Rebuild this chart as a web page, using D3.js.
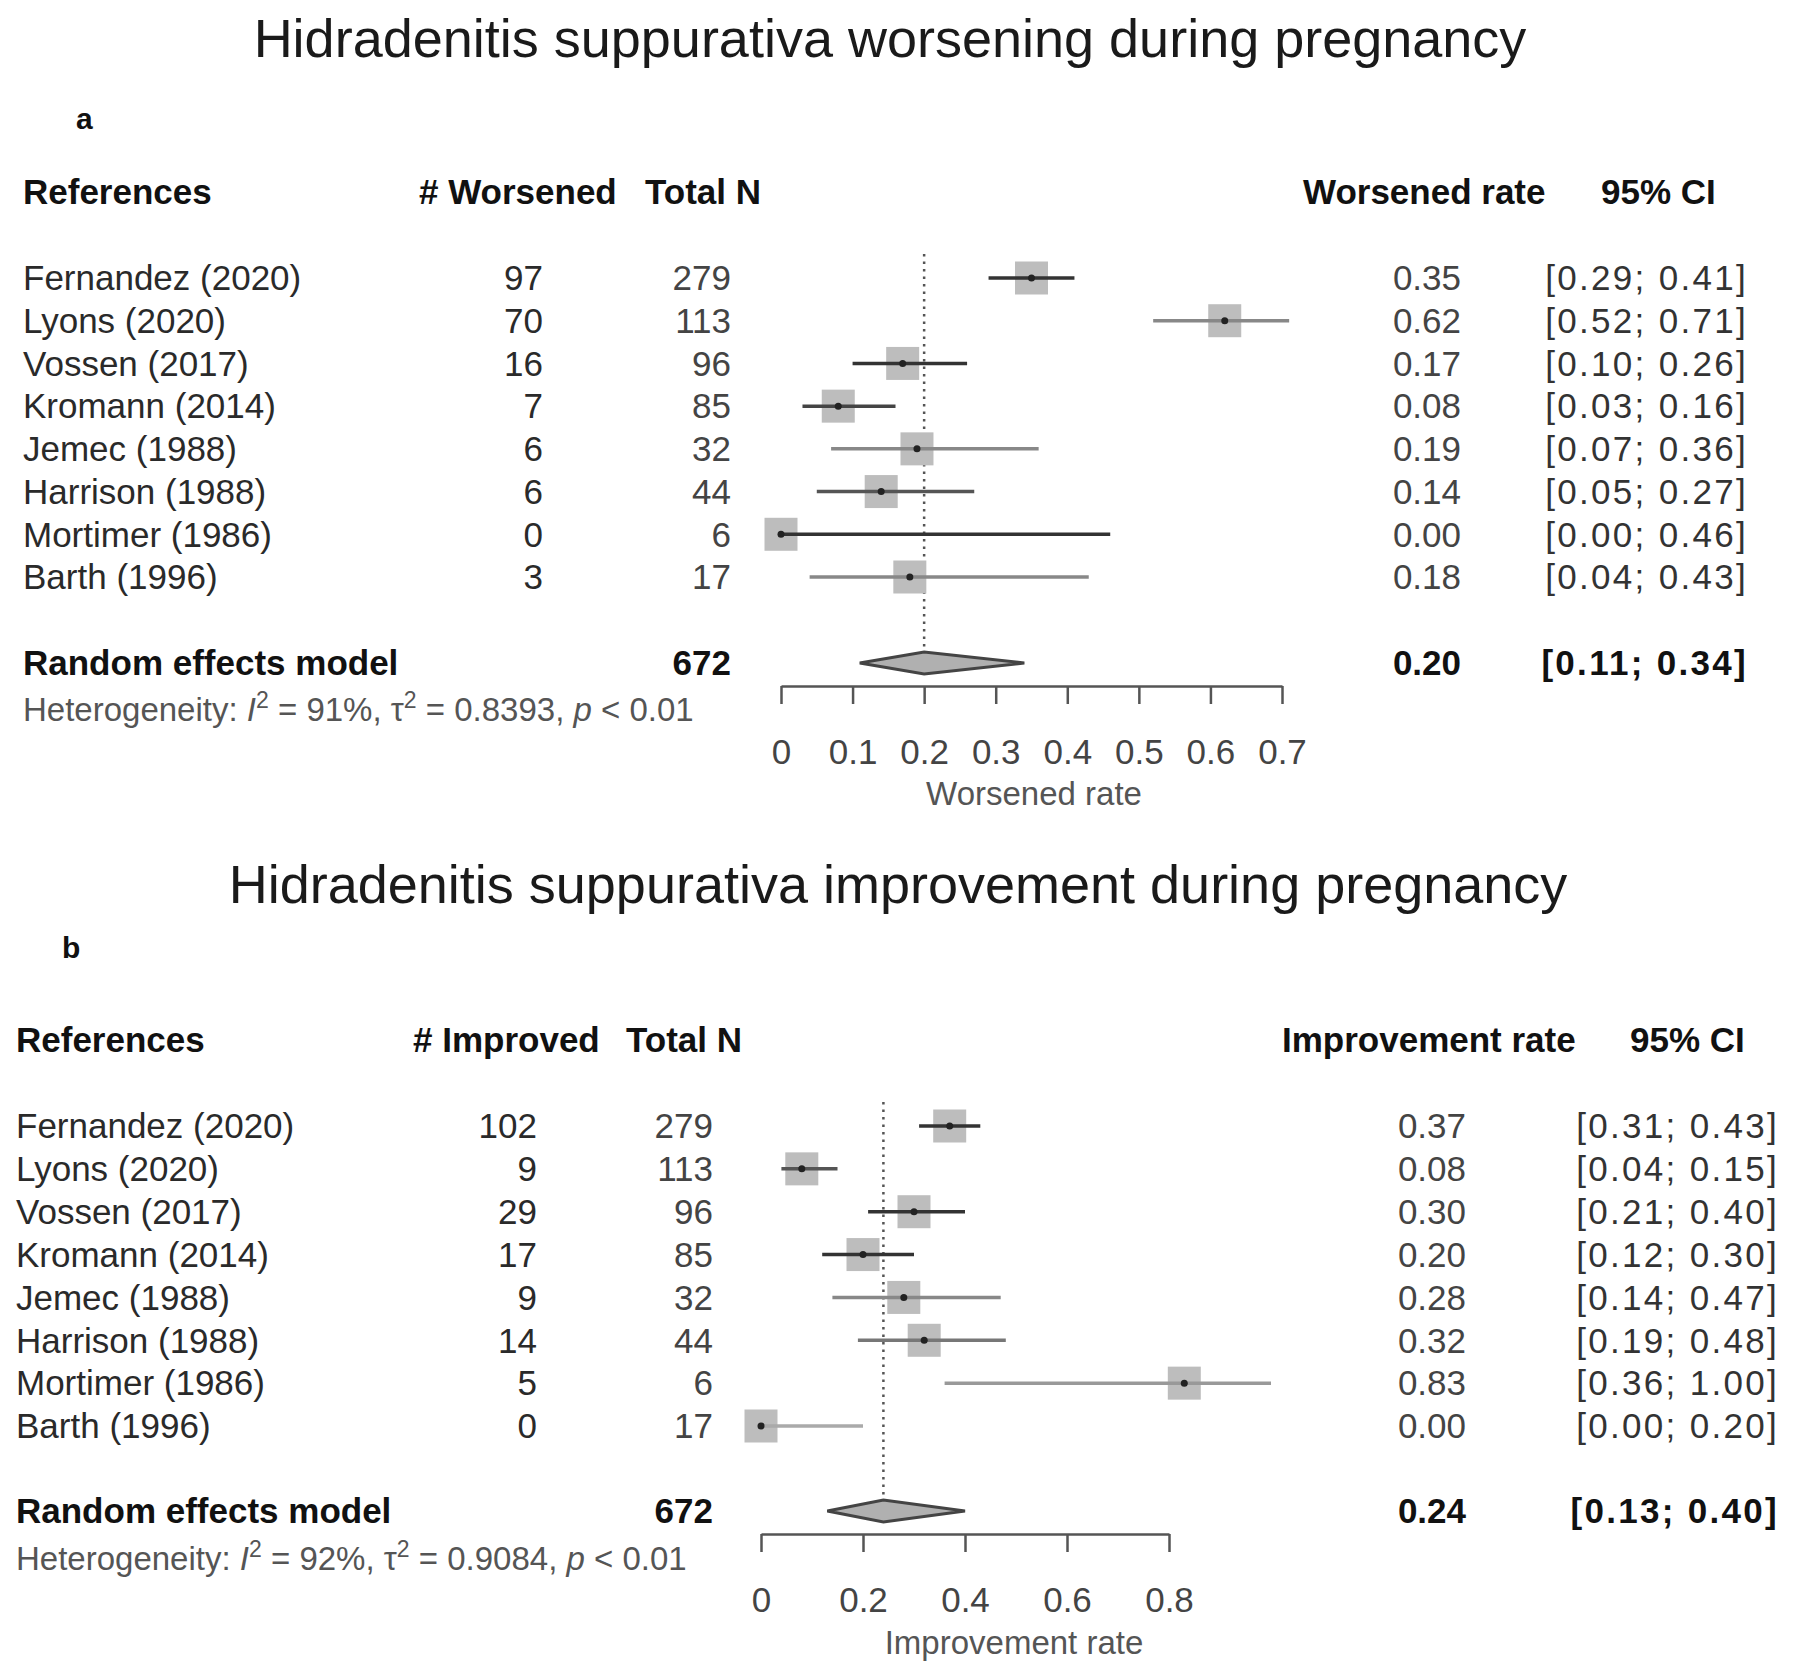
<!DOCTYPE html>
<html><head><meta charset="utf-8">
<script src="https://cdn.jsdelivr.net/npm/d3@7"></script>
<style>
html,body{margin:0;padding:0;background:#fff;}
svg{display:block;font-family:"Liberation Sans",Arial,sans-serif;}
</style></head>
<body><svg id="chart" width="1800" height="1675"></svg>
<script>
// ---------- data ----------
const studies = ["Fernandez (2020)","Lyons (2020)","Vossen (2017)","Kromann (2014)","Jemec (1988)","Harrison (1988)","Mortimer (1986)","Barth (1996)"];
const totalN = [279,113,96,85,32,44,6,17];

const worsened = [97,70,16,7,6,6,0,3];
const worsenedRate = [0.35,0.62,0.17,0.08,0.19,0.14,0.00,0.18];
const worsenedLo = [0.29,0.52,0.10,0.03,0.07,0.05,0.00,0.04];
const worsenedHi = [0.41,0.71,0.26,0.16,0.36,0.27,0.46,0.43];
const worsenedSummary = {n:672, est:0.20, lo:0.11, hi:0.34, i2:"91%", tau2:"0.8393", p:"0.01"};
const worsenedTicks = [0,0.1,0.2,0.3,0.4,0.5,0.6,0.7];
const worsenedTickLabels = ["0","0.1","0.2","0.3","0.4","0.5","0.6","0.7"];

const improved = [102,9,29,17,9,14,5,0];
const improvedRate = [0.37,0.08,0.30,0.20,0.28,0.32,0.83,0.00];
const improvedLo = [0.31,0.04,0.21,0.12,0.14,0.19,0.36,0.00];
const improvedHi = [0.43,0.15,0.40,0.30,0.47,0.48,1.00,0.20];
const improvedSummary = {n:672, est:0.24, lo:0.13, hi:0.40, i2:"92%", tau2:"0.9084", p:"0.01"};
const improvedTicks = [0,0.2,0.4,0.6,0.8];
const improvedTickLabels = ["0","0.2","0.4","0.6","0.8"];

const fmt2 = d3.format(".2f");
const svg = d3.select("#chart");
svg.append("rect").attr("width",1800).attr("height",1675).attr("fill","#fff");

const ciShade = ["#333","#888","#333","#444","#888","#555","#333","#888"];
const ciShadeB = ["#333","#555","#333","#333","#888","#777","#999","#aaa"];

function panel(o){
  const g = svg.append("g");
  // title
  g.append("text").attr("x",o.titleX).attr("y",o.titleY).attr("text-anchor","middle")
    .attr("font-size",54).attr("fill","#1a1a1a").text(o.title);
  g.append("text").attr("x",o.letterX).attr("y",o.letterY).attr("font-size",30).attr("font-weight","bold")
    .attr("fill","#111").attr("dy","0.35em").text(o.letter);
  // headers
  const hdr = g.append("g").attr("font-size",35).attr("font-weight","bold").attr("fill","#111");
  o.headers.forEach(h=>{
    hdr.append("text").attr("x",h.x).attr("y",o.headerY).attr("dy","0.35em").text(h.t);
  });
  const x = d3.scaleLinear().domain([0,o.ticks[o.ticks.length-1]]).range([o.x0,o.x1]);
  const y = d3.scaleLinear().domain([0,studies.length-1]).range([o.yFirst,o.yLast]);

  // rows text
  const rows = g.append("g").attr("font-size",35).attr("fill","#2a2a2a");
  studies.forEach((s,i)=>{
    rows.append("text").attr("x",o.nameX).attr("y",y(i)).attr("dy","0.35em").text(s);
    rows.append("text").attr("x",o.evX).attr("y",y(i)).attr("dy","0.35em").attr("text-anchor","end").text(o.events[i]);
    rows.append("text").attr("x",o.nX).attr("y",y(i)).attr("dy","0.35em").attr("text-anchor","end").attr("fill","#444").text(totalN[i]);
    rows.append("text").attr("x",o.rateX).attr("y",y(i)).attr("dy","0.35em").attr("text-anchor","end").attr("fill","#444").text(fmt2(o.rate[i]));
    rows.append("text").attr("x",o.ciX).attr("y",y(i)).attr("dy","0.35em").attr("text-anchor","end")
      .attr("letter-spacing","2.3px").attr("fill","#333")
      .text("[" + fmt2(o.lo[i]) + "; " + fmt2(o.hi[i]) + "]");
  });

  // dotted reference line at summary estimate
  g.append("line").attr("x1",x(o.sum.est)).attr("x2",x(o.sum.est))
    .attr("y1",o.yFirst-24).attr("y2",o.sumY-8)
    .attr("stroke","#555").attr("stroke-width",2.5).attr("stroke-dasharray","2.5,5");

  // squares and CIs
  const sq = 33;
  studies.forEach((s,i)=>{
    g.append("rect").attr("x",x(o.rate[i])-sq/2).attr("y",y(i)-sq/2).attr("width",sq).attr("height",sq)
      .attr("fill","#bdbdbd");
    g.append("line").attr("x1",x(o.lo[i])).attr("x2",x(o.hi[i])).attr("y1",y(i)).attr("y2",y(i))
      .attr("stroke",o.shade[i]).attr("stroke-width",3.5);
    g.append("circle").attr("cx",x(o.rate[i])).attr("cy",y(i)).attr("r",3.5).attr("fill","#222");
  });

  // summary row
  const sr = g.append("g").attr("font-size",35).attr("font-weight","bold").attr("fill","#111");
  sr.append("text").attr("x",o.nameX).attr("y",o.sumY).attr("dy","0.35em").text("Random effects model");
  sr.append("text").attr("x",o.nX).attr("y",o.sumY).attr("dy","0.35em").attr("text-anchor","end").text(o.sum.n);
  sr.append("text").attr("x",o.rateX).attr("y",o.sumY).attr("dy","0.35em").attr("text-anchor","end").text(fmt2(o.sum.est));
  sr.append("text").attr("x",o.ciX).attr("y",o.sumY).attr("dy","0.35em").attr("text-anchor","end").attr("letter-spacing","2.3px")
    .text("[" + fmt2(o.sum.lo) + "; " + fmt2(o.sum.hi) + "]");
  const dh = 11;
  g.append("path").attr("d",
    `M${x(o.sum.lo)},${o.sumY} L${x(o.sum.est)},${o.sumY-dh} L${x(o.sum.hi)},${o.sumY} L${x(o.sum.est)},${o.sumY+dh} Z`)
    .attr("fill","#b0b0b0").attr("stroke","#444").attr("stroke-width",3);

  // heterogeneity
  const het = g.append("text").attr("x",o.nameX).attr("y",o.hetY).attr("dy","0.35em").attr("font-size",33).attr("fill","#555");
  het.append("tspan").text("Heterogeneity: ");
  het.append("tspan").attr("font-style","italic").text("I");
  het.append("tspan").attr("font-size",23).attr("dy","-13").text("2");
  het.append("tspan").attr("dy","13").text(" = " + o.sum.i2 + ", ");
  het.append("tspan").text("τ");
  het.append("tspan").attr("font-size",23).attr("dy","-13").text("2");
  het.append("tspan").attr("dy","13").text(" = " + o.sum.tau2 + ", ");
  het.append("tspan").attr("font-style","italic").text("p");
  het.append("tspan").text(" < " + o.sum.p);

  // axis
  const ax = g.append("g").attr("transform",`translate(0,${o.axisY})`)
    .call(d3.axisBottom(x).tickValues(o.ticks).tickFormat((d,i)=>o.tickLabels[i]).tickSize(18).tickSizeOuter(0).tickPadding(35));
  ax.select(".domain").attr("stroke","#555").attr("stroke-width",2.5);
  ax.selectAll(".tick line").attr("stroke","#555").attr("stroke-width",2.5);
  ax.selectAll(".tick text").attr("font-size",35).attr("fill","#444").attr("font-family","Liberation Sans, Arial, sans-serif");
  g.append("text").attr("x",o.axTitleX).attr("y",o.axTitleY).attr("text-anchor","middle").attr("dy","0.35em")
    .attr("font-size",33).attr("fill","#555").text(o.axTitle);
}

panel({
  title:"Hidradenitis suppurativa worsening during pregnancy", titleX:890, titleY:57,
  letter:"a", letterX:76, letterY:118,
  headerY:192,
  headers:[{x:23,t:"References"},{x:419,t:"# Worsened"},{x:645,t:"Total N"},{x:1303,t:"Worsened rate"},{x:1601,t:"95% CI"}],
  nameX:23, evX:543, nX:731, rateX:1461, ciX:1748,
  events:worsened, rate:worsenedRate, lo:worsenedLo, hi:worsenedHi, sum:worsenedSummary,
  shade:ciShade,
  x0:781, x1:1282, yFirst:278, yLast:577, sumY:663, hetY:709,
  ticks:worsenedTicks, tickLabels:worsenedTickLabels, axisY:686,
  axTitle:"Worsened rate", axTitleX:1034, axTitleY:793
});

panel({
  title:"Hidradenitis suppurativa improvement during pregnancy", titleX:898, titleY:903,
  letter:"b", letterX:62, letterY:947,
  headerY:1040,
  headers:[{x:16,t:"References"},{x:413,t:"# Improved"},{x:626,t:"Total N"},{x:1282,t:"Improvement rate"},{x:1630,t:"95% CI"}],
  nameX:16, evX:537, nX:713, rateX:1466, ciX:1779,
  events:improved, rate:improvedRate, lo:improvedLo, hi:improvedHi, sum:improvedSummary,
  shade:ciShadeB,
  x0:761, x1:1169, yFirst:1126, yLast:1426, sumY:1511, hetY:1558,
  ticks:improvedTicks, tickLabels:improvedTickLabels, axisY:1534,
  axTitle:"Improvement rate", axTitleX:1014, axTitleY:1642
});
</script></body></html>
